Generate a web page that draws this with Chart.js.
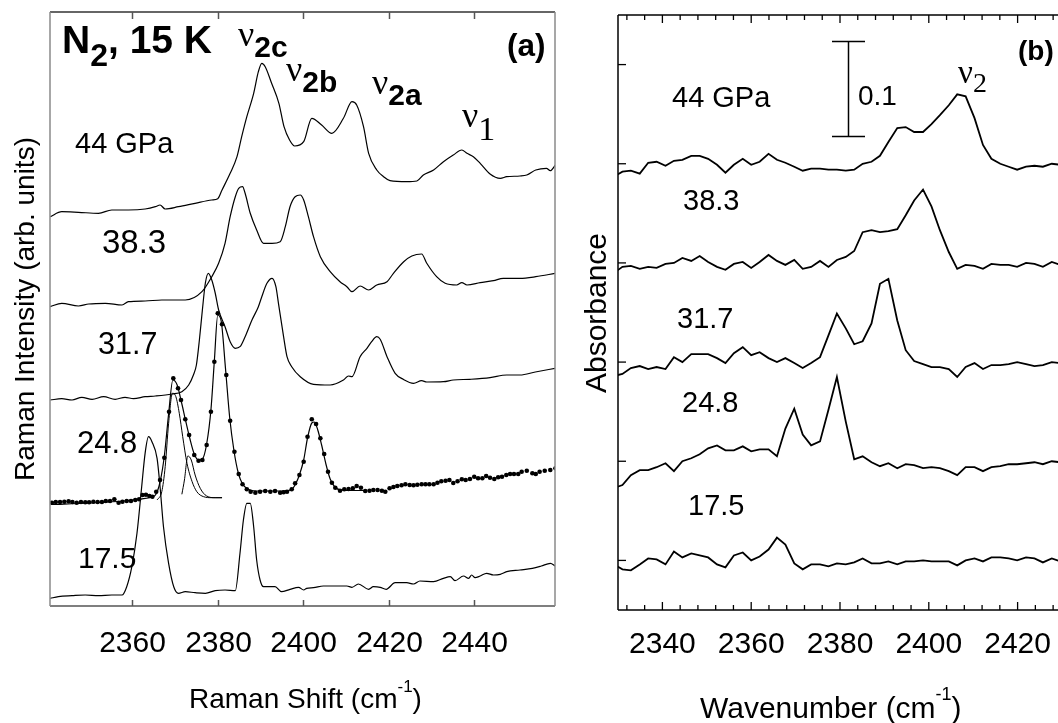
<!DOCTYPE html>
<html>
<head>
<meta charset="utf-8">
<script src="https://cdn.jsdelivr.net/npm/chart.js@4.4.1/dist/chart.umd.min.js"></script>
<style>
  html, body { margin: 0; padding: 0; background: #fff; overflow: hidden; }
  body { width: 1058px; height: 723px; position: relative; }
  canvas { position: absolute; top: 0; }
  #raman { left: 0; }
  #ir { left: 560px; }
</style>
</head>
<body>
<canvas id="raman" width="560" height="723"></canvas>
<canvas id="ir" width="540" height="723"></canvas>
<script>
// ── (a) Raman spectra of N2 at 15 K, [shift cm-1, intensity arb.] ──
// traces are stacked
const raman44 = [
  [2340.8,389.3],[2343.5,394.3],[2347.4,393.7],[2352.1,392.7],[2355.2,396],[2359.1,396],[2363.0,397],
  [2365.4,399.3],[2366.5,401],[2367.7,397],[2370.8,399.3],[2374.7,402.7],[2378.6,406],[2380.0,407.3],
  [2381.0,416],[2382.9,432.7],[2384.5,449.3],[2385.6,469.3],[2386.8,489.3],[2388.4,512.7],[2389.5,534.3],
  [2390.3,542.7],[2391.1,539.3],[2392.6,522.7],[2394.3,502.7],[2395.5,479.3],[2396.8,466],[2398.0,460],
  [2400.1,464.3],[2402.0,487.7],[2404.3,481],[2406.7,472.7],[2409.4,487.7],[2411.4,504.3],[2412.5,501],
  [2414.1,479.3],[2415.3,452.7],[2417.2,436],[2418.8,429.3],[2420.3,425.3],[2424.2,424.3],[2426.6,425],
  [2428.1,431],[2430.5,436],[2432.8,444.3],[2435.1,451],[2437.1,456],[2438.3,452.7],[2439.8,449.3],
  [2441.4,442.7],[2443.7,432],[2446.1,427.7],[2447.6,429.3],[2450.7,430],[2452.3,431],[2454.4,436],
  [2456.9,437.7],[2457.8,435.3],[2459.0,441]
];
const raman383 = [
  [2340.8,299.3],[2343.5,302.7],[2347.4,300],[2349.8,302],[2353.7,302.7],[2357.6,301],[2359.1,304.3],
  [2363.0,305],[2366.9,306],[2372.4,306],[2376.3,314.3],[2378.6,329.3],[2380.2,342.7],[2381.7,362.7],
  [2382.9,389.3],[2384.1,409.3],[2384.9,417.7],[2385.8,419.3],[2386.4,412.7],[2387.6,392.7],[2389.1,376],
  [2390.7,362.7],[2392.7,362.7],[2394.6,364.3],[2395.8,379.3],[2396.9,399.3],[2398.1,409.3],[2399.3,411],
  [2400.1,406],[2401.2,389.3],[2402.4,369.3],[2404.0,349.3],[2406.3,334.3],[2408.6,324.3],[2410.2,319.3],
  [2411.4,314.3],[2413.3,320],[2415.3,316],[2417.2,321],[2419.6,324.3],[2421.1,332.7],[2423.5,344.3],
  [2425.4,350],[2427.7,352],[2428.9,342.7],[2431.2,329.3],[2433.2,322.7],[2435.9,321],[2437.1,323.3],
  [2438.3,321],[2441.4,323.3],[2444.5,325.3],[2446.8,327.7],[2450.7,327.7],[2454.4,329.3],[2459.0,332.7]
];
const raman317 = [
  [2340.8,206],[2343.5,207.3],[2345.9,206],[2348.2,208.7],[2350.6,206.7],[2353.3,209.3],[2356.0,206.7],
  [2358.3,208.7],[2360.3,207.3],[2363.0,209.3],[2365.4,210],[2369.3,212],[2371.6,214.3],[2373.2,221],
  [2374.3,231],[2375.0,241],[2375.7,266],[2376.4,296],[2377.1,323],[2377.8,332.7],[2378.6,326],
  [2379.4,313],[2380.2,296],[2381.7,279.3],[2382.9,264.3],[2384.1,257.7],[2385.2,259.3],[2386.4,269.3],
  [2388.0,286],[2389.5,299.3],[2390.3,309.3],[2391.5,322.7],[2392.7,327.7],[2393.6,319.3],[2394.2,302.7],
  [2395.4,269.3],[2396.2,249.3],[2397.3,239.3],[2399.3,229.3],[2402.4,221.7],[2406.3,221],[2409.4,226],
  [2410.6,230],[2411.4,229.3],[2413.3,249.3],[2414.9,257.7],[2416.0,264.3],[2417.2,269.3],[2418.0,266.7],
  [2419.6,249.3],[2421.5,232.7],[2423.4,226.7],[2425.8,222.7],[2427.7,225.3],[2428.9,224],[2432.8,224.3],
  [2435.1,226],[2439.0,226.7],[2443.7,228.3],[2447.6,231],[2450.7,231],[2454.3,234],[2459.0,237.7]
];
// 24.8 GPa: measured points, fitted sum and two fitted bands
const raman248 = [
  [2341.2,103.3],[2342.1,104],[2343.1,104],[2344.1,104.3],[2345.1,104.7],[2346.0,104],[2347.0,103.3],
  [2348.0,104],[2349.0,103.7],[2349.9,103.7],[2350.9,104.3],[2351.9,104],[2352.9,104],[2353.8,105],
  [2354.8,105],[2355.8,106.7],[2356.8,103.3],[2357.7,104.3],[2358.7,105],[2359.7,105],[2360.7,106],
  [2361.6,106.7],[2362.4,111],[2363.2,111.3],[2364.0,110],[2364.7,109.3],[2365.6,114.3],[2366.5,126],
  [2367.5,148.3],[2368.6,194.3],[2369.6,227.7],[2370.7,217.7],[2371.4,206],[2372.4,186.7],[2373.3,171],
  [2374.5,151],[2375.5,145.3],[2376.4,146],[2377.4,161],[2378.4,194.3],[2379.2,244.3],[2380.0,292.7],
  [2381.0,281.7],[2382.0,231],[2382.9,185.3],[2383.9,154.3],[2384.9,132],[2385.8,121.7],[2386.8,116.7],
  [2387.7,114.3],[2388.8,113.3],[2389.9,114.3],[2391.1,115],[2392.3,114.3],[2393.4,115],[2394.6,113.3],
  [2395.4,113.7],[2396.2,114.3],[2397.3,116.7],[2398.1,122.7],[2399.1,131],[2400.1,144.3],[2401.0,169.3],
  [2402.0,186.7],[2403.0,182],[2404.0,167.7],[2404.9,152],[2405.8,134.3],[2406.7,123.3],[2407.5,118.3],
  [2408.6,115.3],[2409.6,116.7],[2410.6,117],[2411.6,117.7],[2412.5,120],[2413.5,118.3],[2414.5,115],
  [2415.5,115.3],[2416.4,116],[2417.4,116],[2418.4,115.3],[2419.2,114.3],[2420.2,117.7],[2421.1,119],
  [2422.0,120],[2423.0,120.7],[2423.9,121.7],[2424.9,121],[2425.8,120.7],[2426.7,121.3],[2427.7,121.7],
  [2428.6,121.7],[2429.5,121.7],[2430.5,121.7],[2431.4,123.3],[2432.3,124.7],[2433.3,125.3],[2434.2,126],
  [2435.1,123],[2436.1,124.7],[2437.1,126.7],[2438.0,126],[2439.0,127],[2440.0,129.3],[2440.9,127.7],
  [2441.9,127.7],[2442.8,130],[2443.7,128.3],[2444.7,127],[2445.6,128.7],[2446.5,129.3],[2447.5,131],
  [2448.4,132],[2449.3,132],[2450.3,132],[2451.1,134.3],[2452.3,135.3],[2453.6,132.7],[2454.4,132],
  [2455.3,134.3],[2456.5,135.3],[2457.8,136],[2459.0,137.7]
];
const raman248Fit = [
  [2341,101.5],[2350,103],[2358,105],[2362,107],[2364.5,109],[2365.5,111.5],[2366.5,124],[2367.5,150],
  [2368.5,192],[2369.5,226],[2370.5,221],[2371.5,204],[2372.5,185],[2373.5,167],[2374.5,152],[2375.5,146],
  [2376.4,147],[2377.4,162],[2378.4,196],[2379.2,245],[2380.0,291],[2380.8,285],[2381.8,238],[2382.8,188],
  [2383.8,155],[2384.8,133],[2385.8,122],[2387,117],[2389,115],[2392,115],[2395,115],[2397.3,116.5],
  [2398.2,122],[2399.1,131],[2400.1,146],[2401.0,168],[2402.0,183],[2402.6,184],[2403.4,176],[2404.3,161],
  [2405.3,142],[2406.3,127],[2407.4,119],[2408.8,116],[2411,115.5],[2414.3,115.5]
];
const raman248Band1 = [
  [2365.8,106],[2366.9,114.3],[2367.7,139.3],[2368.5,182.7],[2369.4,212.7],[2370.2,209.3],[2371.0,192.7],
  [2371.8,169.3],[2372.8,142.7],[2374.0,124.3],[2375.1,114.3],[2376.7,109.3],[2378.6,108.3],[2381.0,108.3]
];
const raman248Band2 = [
  [2371.6,111.7],[2372.2,126],[2373.0,150],[2373.8,146],[2374.7,131],[2375.9,117.7],[2377.4,110],
  [2379.4,108.3],[2381.0,108.3]
];
const raman175 = [
  [2340.8,7.7],[2342.7,9.3],[2345.9,10.3],[2349.0,11],[2352.1,10.3],[2355.2,11],[2357.6,11],[2358.7,19.3],
  [2359.9,39.3],[2361.1,72.7],[2362.2,119.3],[2363.0,152.7],[2363.8,169.3],[2364.6,164.3],[2365.8,147.7],
  [2366.5,119.3],[2367.3,79.3],[2368.5,42.7],[2369.7,19.3],[2370.8,12.7],[2372.4,14.3],[2374.7,13.3],
  [2377.1,12.7],[2379.4,15.3],[2381.7,16],[2384.1,15.3],[2385.2,52.7],[2386.0,86],[2386.8,102.7],
  [2387.6,102.7],[2388.4,79.3],[2389.1,46],[2389.9,26],[2390.7,19.3],[2391.9,19.3],[2393.4,19.3],
  [2394.9,14.3],[2396.9,16.7],[2398.9,18.7],[2400.1,16],[2400.8,17.7],[2402.4,18.3],[2404.7,20],
  [2407.1,20],[2410.2,20],[2411.4,18.7],[2412.9,22],[2415.3,16.7],[2416.4,19.3],[2418.0,18.7],[2419.4,16.7],
  [2421.5,23.3],[2424.2,23.3],[2425.8,22],[2427.3,25],[2430.5,24.3],[2432.8,27.7],[2434.4,29.3],
  [2435.5,25.3],[2437.5,30],[2438.7,27.7],[2439.4,31],[2440.2,28.3],[2441.4,30],[2442.9,32.7],[2444.5,31],
  [2446.1,31.7],[2447.6,34.3],[2450.7,36],[2453.6,37.7],[2455.7,40],[2457.8,42.7],[2459.0,40]
];
const ramanTicks = [2360, 2380, 2400, 2420, 2440];

// ── (b) IR absorbance, offset by 0.1 per pressure ──
const irWavenumber = [
  2329.1, 2331.0, 2332.9, 2334.9, 2336.8, 2338.7, 2340.7, 2342.6, 2344.5, 2346.5,
  2348.4, 2350.3, 2352.3, 2354.2, 2356.1, 2358.1, 2360.0, 2361.9, 2363.9, 2365.8,
  2367.7, 2369.7, 2371.6, 2373.5, 2375.5, 2377.4, 2379.3, 2381.3, 2383.2, 2385.1,
  2387.1, 2389.0, 2390.9, 2392.9, 2394.8, 2396.7, 2398.7, 2400.6, 2402.5, 2404.5,
  2406.4, 2408.3, 2410.3, 2412.2, 2414.1, 2416.1, 2418.0, 2419.9, 2421.9, 2423.8,
  2425.7, 2427.7, 2429.6, 2431.5
];
const ir44 = [
  0.387, 0.392, 0.393, 0.390, 0.401, 0.402, 0.398, 0.403, 0.404, 0.408,
  0.408, 0.405, 0.399, 0.391, 0.399, 0.405, 0.399, 0.402, 0.410, 0.404,
  0.401, 0.397, 0.393, 0.395, 0.395, 0.394, 0.394, 0.393, 0.394, 0.400,
  0.402, 0.408, 0.422, 0.436, 0.437, 0.432, 0.432, 0.440, 0.449, 0.459,
  0.470, 0.468, 0.446, 0.419, 0.405, 0.400, 0.397, 0.394, 0.397, 0.398,
  0.397, 0.400, 0.399, 0.399
];
const ir383 = [
  0.290, 0.296, 0.297, 0.294, 0.296, 0.295, 0.299, 0.300, 0.305, 0.302,
  0.307, 0.301, 0.296, 0.293, 0.299, 0.301, 0.295, 0.301, 0.308, 0.302,
  0.298, 0.303, 0.294, 0.296, 0.302, 0.296, 0.303, 0.306, 0.312, 0.331,
  0.333, 0.331, 0.332, 0.334, 0.348, 0.363, 0.374, 0.357, 0.333, 0.311,
  0.294, 0.298, 0.297, 0.294, 0.299, 0.298, 0.298, 0.296, 0.300, 0.299,
  0.296, 0.301, 0.298, 0.298
];
const ir317 = [
  0.186, 0.188, 0.194, 0.196, 0.193, 0.195, 0.193, 0.205, 0.200, 0.208,
  0.208, 0.208, 0.204, 0.199, 0.209, 0.215, 0.207, 0.210, 0.204, 0.200,
  0.204, 0.199, 0.194, 0.199, 0.205, 0.227, 0.249, 0.234, 0.218, 0.221,
  0.239, 0.279, 0.284, 0.242, 0.212, 0.201, 0.198, 0.195, 0.195, 0.193,
  0.185, 0.195, 0.199, 0.193, 0.197, 0.197, 0.198, 0.200, 0.198, 0.196,
  0.197, 0.200, 0.199, 0.199
];
const ir248 = [
  0.073, 0.076, 0.086, 0.091, 0.091, 0.094, 0.098, 0.090, 0.100, 0.103,
  0.107, 0.113, 0.116, 0.111, 0.111, 0.115, 0.110, 0.112, 0.112, 0.105,
  0.133, 0.153, 0.127, 0.116, 0.120, 0.152, 0.185, 0.140, 0.102, 0.105,
  0.099, 0.095, 0.098, 0.093, 0.097, 0.096, 0.093, 0.094, 0.093, 0.090,
  0.086, 0.094, 0.094, 0.090, 0.094, 0.095, 0.097, 0.097, 0.098, 0.099,
  0.097, 0.100, 0.099, 0.099
];
const ir175 = [
  -0.004, -0.009, -0.010, -0.004, 0.002, 0.001, -0.004, 0.009, 0.003, 0.007,
  0.005, 0.003, -0.004, -0.007, 0.005, 0.008, 0.000, 0.004, 0.011, 0.023,
  0.016, -0.003, -0.009, -0.004, -0.004, -0.006, -0.003, -0.004, -0.002, 0.002,
  -0.003, -0.003, -0.001, -0.004, -0.001, -0.001, 0.000, -0.001, -0.001, -0.001,
  -0.005, 0.000, 0.002, -0.001, 0.003, 0.003, 0.002, 0.000, 0.003, 0.002,
  -0.002, 0.002, -0.001, -0.001
];
const irTicks = [2340, 2360, 2380, 2400, 2420];
const irMinorTicks = [2332, 2336, 2344, 2348, 2352, 2356, 2364, 2368, 2372, 2376,
                      2384, 2388, 2392, 2396, 2404, 2408, 2412, 2416, 2424, 2428];
const irYTicks = [0, 0.1, 0.2, 0.3, 0.4, 0.5];

// fonts
const SANS  = '"Liberation Sans", Arial, Helvetica, sans-serif';
const SERIF = '"Liberation Serif", "Times New Roman", serif';
const f = (size, face = SANS, weight = '') => `${weight} ${size}px ${face}`.trim();

// page-pixel text placements; each entry is a run of pieces (for sub/superscripts)
const ramanTexts = [
  { x: 62,  y: 53,  runs: [['N', f(39, SANS, 'bold')], ['2', f(32, SANS, 'bold'), 13], [', 15 K', f(39, SANS, 'bold')]] },
  { x: 238, y: 46,  runs: [['ν', f(36, SERIF)], ['2c', f(30, SANS, 'bold'), 11]] },
  { x: 286, y: 81,  runs: [['ν', f(36, SERIF)], ['2b', f(30, SANS, 'bold'), 11]] },
  { x: 372, y: 94,  runs: [['ν', f(36, SERIF)], ['2a', f(30, SANS, 'bold'), 11]] },
  { x: 462, y: 127, runs: [['ν', f(36, SERIF)], ['1', f(34, SERIF), 13]] },
  { x: 507, y: 56,  runs: [['(a)', f(31.5, SANS, 'bold')]] },
  { x: 75,  y: 153, runs: [['44 GPa', f(29)]] },
  { x: 102, y: 253, runs: [['38.3', f(33)]] },
  { x: 98,  y: 354, runs: [['31.7', f(30.5)]] },
  { x: 77,  y: 453, runs: [['24.8', f(31)]] },
  { x: 78,  y: 568, runs: [['17.5', f(30)]] },
  { x: 189, y: 708, runs: [['Raman Shift (cm', f(28)], ['-1', f(17), -16], [')', f(28)]] }
];
const irTexts = [
  { x: 1018, y: 60,  runs: [['(b)', f(28, SANS, 'bold')]] },
  { x: 958,  y: 83,  runs: [['ν', f(33, SERIF)], ['2', f(28, SERIF), 9]] },
  { x: 672,  y: 107, runs: [['44 GPa', f(29)]] },
  { x: 858,  y: 105, runs: [['0.1', f(28)]] },
  { x: 683,  y: 210, runs: [['38.3', f(29)]] },
  { x: 677,  y: 328, runs: [['31.7', f(29)]] },
  { x: 682,  y: 412, runs: [['24.8', f(29)]] },
  { x: 688,  y: 515, runs: [['17.5', f(29)]] },
  { x: 700,  y: 718, runs: [['Wavenumber (cm', f(30)], ['-1', f(18), -18], [')', f(30)]] }
];

function drawRuns(ctx, x, y, runs) {
  ctx.textAlign = 'left';
  ctx.textBaseline = 'alphabetic';
  runs.forEach(([text, font, dy = 0]) => {
    ctx.font = font;
    ctx.fillText(text, x, y + dy);
    x += ctx.measureText(text).width;
  });
}

function seg(ctx, x1, y1, x2, y2, color) {
  ctx.strokeStyle = color;
  ctx.beginPath();
  ctx.moveTo(x1, y1);
  ctx.lineTo(x2, y2);
  ctx.stroke();
}

function drawVerticalTitle(ctx, text, font, baselineX, centerY) {
  ctx.save();
  ctx.translate(baselineX, centerY);
  ctx.rotate(-Math.PI / 2);
  ctx.font = font;
  ctx.textAlign = 'center';
  ctx.textBaseline = 'alphabetic';
  ctx.fillText(text, 0, 0);
  ctx.restore();
}

// frame, inward tick marks and all text for panel (a)
const ramanDecor = {
  id: 'ramanDecor',
  afterDraw(chart) {
    const { ctx, chartArea: a, scales: { x } } = chart;
    ctx.save();
    ctx.lineWidth = 1.5;
    seg(ctx, a.left, a.top, a.right, a.top, '#333');
    seg(ctx, a.left, a.bottom, a.right, a.bottom, '#555');
    seg(ctx, a.left, a.top, a.left, a.bottom, '#8a8a8a');
    seg(ctx, a.right, a.top, a.right, a.bottom, '#8a8a8a');
    ctx.fillStyle = '#000';
    ctx.font = f(30);
    ctx.textAlign = 'center';
    ramanTicks.forEach(v => {
      const px = Math.round(x.getPixelForValue(v)) + 0.5;
      seg(ctx, px, a.top, px, a.top + 7, '#555');
      seg(ctx, px, a.bottom, px, a.bottom - 6, '#555');
      ctx.fillText(String(v), px, 652);
    });
    ramanTexts.forEach(t => drawRuns(ctx, t.x, t.y, t.runs));
    drawVerticalTitle(ctx, 'Raman Intensity (arb. units)', f(28), 34, 309);
    ctx.restore();
  }
};

const IR_LEFT = 560; // canvas offset on the page
const irDecor = {
  id: 'irDecor',
  afterDraw(chart) {
    const { ctx, chartArea: a, scales: { x, y } } = chart;
    ctx.save();
    ctx.translate(-IR_LEFT, 0);
    const L = a.left + IR_LEFT, R = a.right + IR_LEFT;
    ctx.lineWidth = 1.5;
    seg(ctx, L, a.top, R, a.top, '#000');
    seg(ctx, L, a.bottom, R, a.bottom, '#000');
    seg(ctx, L, a.top, L, a.bottom, '#000');
    seg(ctx, R, a.top, R, a.bottom, '#000');
    ctx.lineWidth = 1.3;
    irMinorTicks.forEach(v => {
      const px = x.getPixelForValue(v) + IR_LEFT;
      seg(ctx, px, a.top, px, a.top + 5, '#000');
      seg(ctx, px, a.bottom, px, a.bottom - 5, '#000');
    });
    ctx.fillStyle = '#000';
    ctx.font = f(30);
    ctx.textAlign = 'center';
    irTicks.forEach(v => {
      const px = x.getPixelForValue(v) + IR_LEFT;
      seg(ctx, px, a.top, px, a.top + 8, '#000');
      seg(ctx, px, a.bottom, px, a.bottom - 8, '#000');
      ctx.fillText(String(v), px, 653);
    });
    irYTicks.forEach(v => {
      const py = y.getPixelForValue(v);
      seg(ctx, L, py, L + 8, py, '#000');
    });
    // 0.1 absorbance scale bar
    ctx.lineWidth = 1.5;
    seg(ctx, 848.5, 41.5, 848.5, 136.5, '#000');
    seg(ctx, 832, 41.5, 865, 41.5, '#000');
    seg(ctx, 832, 136.5, 865, 136.5, '#000');
    irTexts.forEach(t => drawRuns(ctx, t.x, t.y, t.runs));
    drawVerticalTitle(ctx, 'Absorbance', f(30), 606, 313);
    ctx.restore();
  }
};

const toXY = pts => pts.map(([x, y]) => ({ x, y }));
const ramanLine = (pts, width = 1.2) => ({
  data: toXY(pts), borderColor: '#000', borderWidth: width, pointRadius: 0,
  fill: false, cubicInterpolationMode: 'monotone'
});
const irLine = vals => ({
  data: irWavenumber.map((x, i) => ({ x, y: vals[i] })),
  borderColor: '#000', borderWidth: 1.8, pointRadius: 0, fill: false, tension: 0
});

const hiddenAxis = {
  type: 'linear',
  grid: { display: false },
  border: { display: false },
  ticks: { display: false }
};

new Chart(document.getElementById('raman'), {
  type: 'line',
  data: {
    datasets: [
      ramanLine(raman44),
      ramanLine(raman383),
      ramanLine(raman317),
      ramanLine(raman248Fit),
      ramanLine(raman248Band1, 1),
      ramanLine(raman248Band2, 1),
      { data: toXY(raman248), showLine: false, pointRadius: 2.3, pointBorderWidth: 0,
        pointBackgroundColor: '#000' },
      ramanLine(raman175)
    ]
  },
  options: {
    responsive: false,
    animation: false,
    devicePixelRatio: 1,
    layout: { padding: { top: 12, right: 5, left: 0, bottom: 0 } },
    plugins: { legend: { display: false }, tooltip: { enabled: false } },
    scales: {
      x: { ...hiddenAxis, position: 'bottom', min: 2340.75, max: 2458.9,
           afterFit: s => { s.height = 117; } },
      y: { ...hiddenAxis, min: 0, max: 594, afterFit: s => { s.width = 50; } }
    }
  },
  plugins: [ramanDecor]
});

new Chart(document.getElementById('ir'), {
  type: 'line',
  data: {
    datasets: [irLine(ir44), irLine(ir383), irLine(ir317), irLine(ir248), irLine(ir175)]
  },
  options: {
    responsive: false,
    animation: false,
    devicePixelRatio: 1,
    layout: { padding: { top: 15, right: 38, left: 0, bottom: 0 } },
    plugins: { legend: { display: false }, tooltip: { enabled: false } },
    scales: {
      x: { ...hiddenAxis, position: 'bottom', min: 2330, max: 2430,
           afterFit: s => { s.height = 113; } },
      y: { ...hiddenAxis, min: -0.05, max: 0.55, afterFit: s => { s.width = 58; } }
    }
  },
  plugins: [irDecor]
});
</script>
</body>
</html>
